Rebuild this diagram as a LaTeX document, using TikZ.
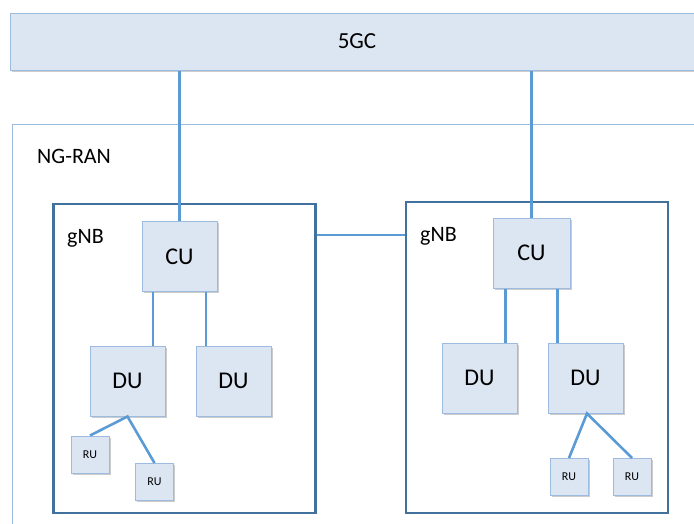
\documentclass[tikz,border=0pt]{standalone}
\usepackage{fontspec}
\setmainfont{Carlito}
\usetikzlibrary{shadows}

\definecolor{unitfill}{HTML}{DCE6F2}
\definecolor{unitline}{HTML}{9DBBDF}
\definecolor{linkblue}{HTML}{5B9BD5}
\definecolor{gnbline}{HTML}{41719C}

\tikzset{
	unit/.style={draw=unitline, fill=unitfill, line width=1pt,
		drop shadow={shadow xshift=1.8pt, shadow yshift=-1.8pt, opacity=0.4},
		minimum width=75pt, minimum height=70pt, inner sep=0pt,
		font=\fontsize{24}{26}\selectfont},
	ru/.style={unit, minimum width=38pt, minimum height=37pt,
		font=\fontsize{12}{13}\selectfont},
	gnbbox/.style={draw=gnbline, line width=2.8pt, minimum width=262pt,
		inner sep=0pt},
	link/.style={draw=linkblue, line width=2.6pt},
	lbl/.style={font=\fontsize{22}{24}\selectfont, anchor=west, inner sep=0pt}
}

\begin{document}
\begin{tikzpicture}[x=1pt, y=-1pt]
		\useasboundingbox (0,0) rectangle (694,523);
		
		\node[unit, minimum width=694pt, minimum height=57pt,
			font=\fontsize{23}{26}\selectfont] (core) at (357,41.5) {5GC};
		
		\node[draw=unitline, line width=1pt, minimum width=700pt, minimum height=420pt,
			inner sep=0pt, anchor=north west] (ngran) at (12,124) {};
		\node[lbl] (ranlbl) at (37,156) {NG-RAN};
		
		% left gNB
		\node[gnbbox, minimum height=309pt] (gnbA) at (184.5,358.5) {};
		\node[lbl] (lblA) at (67,238) {gNB};
		\node[unit] (cuA) at (179.5,256.5) {CU};
		\node[unit] (duA1) at (127.5,381) {DU};
		\node[unit] (duA2) at (233.5,381) {DU};
		\node[ru] (ruA1) at (90,454.5) {RU};
		\node[ru] (ruA2) at (154.5,482) {RU};
		
		% right gNB
		\node[gnbbox, minimum height=311pt] (gnbB) at (537,357.5) {};
		\node[lbl] (lblB) at (420,236) {gNB};
		\node[unit, minimum width=77pt] (cuB) at (531.5,253) {CU};
		\node[unit] (duB1) at (479.5,378) {DU};
		\node[unit] (duB2) at (585.5,378) {DU};
		\node[ru] (ruB1) at (569,477) {RU};
		\node[ru] (ruB2) at (632,477) {RU};
		
		%========================================================================
		% Links
		\draw[link] (cuA.north |- core.south) -- (cuA.north);
		\draw[link] (cuB.north |- core.south) -- (cuB.north);
		\draw[link] ([yshift=123.5pt]gnbA.east) -- ([yshift=123.5pt]gnbA.east -| gnbB.west);
		\draw[link] ([xshift=-26.5pt]cuA.south) -- ([xshift=-26.5pt]cuA.south |- duA1.north);
		\draw[link] ([xshift=26.5pt]cuA.south) -- ([xshift=26.5pt]cuA.south |- duA2.north);
		\draw[link] ([xshift=-26pt]cuB.south) -- ([xshift=-26pt]cuB.south |- duB1.north);
		\draw[link] ([xshift=26pt]cuB.south) -- ([xshift=26pt]cuB.south |- duB2.north);
		\draw[link] (ruA1.north) -- (duA1.south) -- (ruA2.north);
		\draw[link] (ruB1.north) -- ([xshift=1.5pt]duB2.south) -- (ruB2.north);
	\end{tikzpicture}
\end{document}
